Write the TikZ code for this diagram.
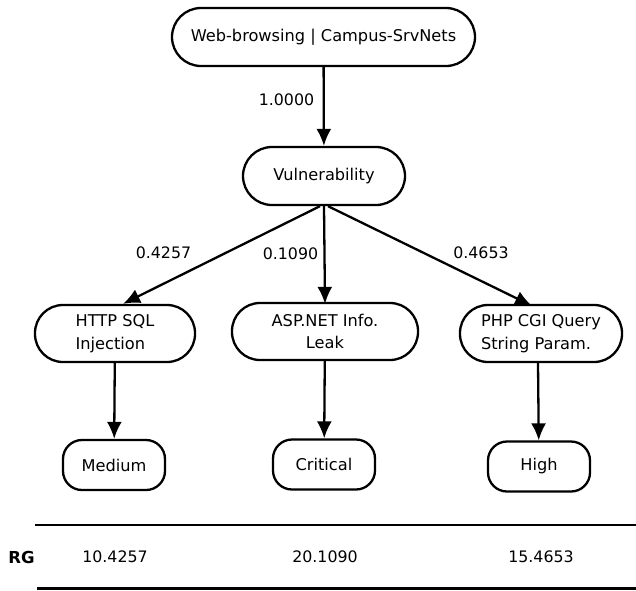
\documentclass[tikz,border=0pt]{standalone}
\usepackage{fontspec}
\setmainfont{DejaVu Sans}
\usetikzlibrary{arrows.meta}
\begin{document}
\begin{tikzpicture}[x=1pt,y=-1pt,
  box/.style={draw=black,line width=2.3pt,rounded corners=28pt,inner sep=0pt,
    font=\fontsize{16.2}{22.5}\selectfont},
  small/.style={box,rounded corners=19pt,minimum width=102pt,minimum height=50pt},
  lbl/.style={font=\fontsize{15.8}{19}\selectfont,inner sep=0pt},
  arr/.style={line width=2.3pt,-{Latex[length=17pt,width=15pt]}},
  rule/.style={line width=2.3pt}]
\useasboundingbox (0,0) rectangle (636,590);
\node[box,minimum width=303pt,minimum height=58pt,rounded corners=29pt] (top) at (323.5,37) {Web-browsing | Campus-SrvNets};
\node[box,minimum width=162pt,minimum height=58pt,rounded corners=29pt] (vul) at (324,176) {Vulnerability};
\node[box,minimum width=160pt,minimum height=57pt,align=left] (http) at (115,333.5) {HTTP SQL\\Injection};
\node[box,minimum width=186pt,minimum height=57pt,align=center] (asp) at (325,331.5) {ASP.NET Info.\\Leak};
\node[box,minimum width=162pt,minimum height=57pt,align=left] (php) at (541,333.5) {PHP CGI Query\\String Param.};
\node[small] (med) at (114,465) {Medium};
\node[small] (crit) at (324,464.5) {Critical};
\node[small] (high) at (539,466.5) {High};
\draw[arr] (top) -- (vul);
\draw[arr] ([xshift=-4pt]vul.south) -- ([xshift=8pt]http.north);
\draw[arr] (vul.south) -- ([yshift=-2pt]asp.north);
\draw[arr] ([xshift=4pt]vul.south) -- ([xshift=-9pt,yshift=-2pt]php.north);
\draw[arr] (http) -- (med);
\draw[arr] (asp) -- (crit);
\draw[arr] ([xshift=-3pt]php.south) -- (high);
\node[lbl] (l1) at (286.5,100) {1.0000};
\node[lbl] (l2) at (163.5,253) {0.4257};
\node[lbl] (l3) at (290.5,254) {0.1090};
\node[lbl] (l4) at (481,253) {0.4653};
\coordinate (r1a) at (35,525);
\coordinate (r1b) at (636,525);
\coordinate (r2a) at (37,588.5);
\coordinate (r2b) at (636,588.5);
\draw[rule] (r1a) -- (r1b);
\draw[rule] (r2a) -- (r2b);
\node[lbl,font=\fontsize{16.5}{19}\selectfont\bfseries] (rg) at (21.5,557) {RG};
\node[lbl] (v1) at (115,557) {10.4257};
\node[lbl] (v2) at (325,557) {20.1090};
\node[lbl] (v3) at (541,557) {15.4653};
\end{tikzpicture}
\end{document}
